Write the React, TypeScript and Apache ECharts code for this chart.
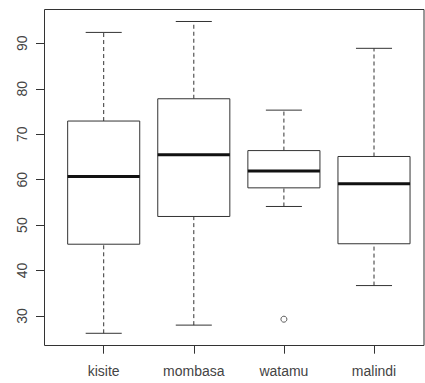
import React, { useEffect, useRef } from "react";
import * as echarts from "echarts";

const categories = ["kisite", "mombasa", "watamu", "malindi"];
const lowerWhisker = [26.2, 28.0, 54.1, 36.7];
const q1 = [45.8, 51.9, 58.2, 45.9];
const median = [60.7, 65.5, 61.9, 59.1];
const q3 = [72.9, 77.8, 66.4, 65.1];
const upperWhisker = [92.4, 94.8, 75.3, 88.9];
const outliers: [number, number][] = [[2, 29.3]];
const yTicks = [30, 40, 50, 60, 70, 80, 90];

const LINE = "#333";
const TEXT = "#444";
const FONT = "'Liberation Sans', Arial, sans-serif";

export default function App() {
  const ref = useRef<HTMLDivElement>(null);
  useEffect(() => {
    if (!ref.current) return;
    const chart = echarts.init(ref.current, undefined, { renderer: "svg" });
    const boxData = categories.map((_, i) => [
      i,
      lowerWhisker[i],
      q1[i],
      median[i],
      q3[i],
      upperWhisker[i],
    ]);
    const gridLeft = 58.65;
    const gridRight = 5.95;
    const gridTop = 9;
    const gridBottom = 37.3;
    chart.setOption({
      animation: false,
      backgroundColor: "#fff",
      grid: { left: gridLeft, right: gridRight, top: gridTop, bottom: gridBottom, containLabel: false },
      xAxis: {
        type: "category",
        data: categories,
        boundaryGap: true,
        axisLine: { show: false },
        axisTick: { show: true, alignWithLabel: true, length: 8, lineStyle: { color: LINE, width: 1 } },
        axisLabel: { margin: 18, fontSize: 14, color: TEXT, fontFamily: FONT },
        splitLine: { show: false },
      },
      yAxis: {
        type: "value",
        min: 23.47,
        max: 97.55,
        offset: gridLeft - 44,
        axisLine: { show: false },
        axisTick: { show: true, length: 8, customValues: yTicks, lineStyle: { color: LINE, width: 1 } },
        axisLabel: { customValues: yTicks, rotate: 90, margin: 15, fontSize: 14, color: TEXT, fontFamily: FONT },
        splitLine: { show: false },
      },
      graphic: [
        {
          type: "rect",
          shape: { x: 44.5, y: 9.5, width: 379.5, height: 336 },
          style: { fill: "none", stroke: LINE, lineWidth: 1 },
          silent: true,
          z: 10,
        },
      ],
      series: [
        {
          type: "custom",
          data: boxData,
          encode: { x: 0, y: [1, 2, 3, 4, 5] },
          renderItem: (params: any, api: any) => {
            const x = api.value(0);
            const band = api.size([1, 0])[0];
            const half = band * 0.4;
            const cap = band * 0.2;
            const pLo = api.coord([x, api.value(1)]);
            const pQ1 = api.coord([x, api.value(2)]);
            const pMed = api.coord([x, api.value(3)]);
            const pQ3 = api.coord([x, api.value(4)]);
            const pHi = api.coord([x, api.value(5)]);
            const cx = pMed[0];
            const solid = { stroke: LINE, lineWidth: 1, fill: "none" };
            const dashed = { stroke: LINE, lineWidth: 1, lineDash: [4, 3], fill: "none" };
            return {
              type: "group",
              children: [
                { type: "line", shape: { x1: cx, y1: pQ3[1], x2: cx, y2: pHi[1] }, style: dashed },
                { type: "line", shape: { x1: cx, y1: pLo[1], x2: cx, y2: pQ1[1] }, style: dashed },
                { type: "line", shape: { x1: cx - cap, y1: pHi[1], x2: cx + cap, y2: pHi[1] }, style: solid },
                { type: "line", shape: { x1: cx - cap, y1: pLo[1], x2: cx + cap, y2: pLo[1] }, style: solid },
                {
                  type: "rect",
                  shape: { x: cx - half, y: pQ3[1], width: half * 2, height: pQ1[1] - pQ3[1] },
                  style: { stroke: LINE, lineWidth: 1, fill: "#fff" },
                },
                {
                  type: "line",
                  shape: { x1: cx - half, y1: pMed[1], x2: cx + half, y2: pMed[1] },
                  style: { stroke: "#111", lineWidth: 3 },
                },
              ],
            };
          },
        },
        {
          type: "scatter",
          data: outliers,
          symbol: "circle",
          symbolSize: 6,
          itemStyle: { color: "#fff", borderColor: LINE, borderWidth: 1 },
        },
      ],
    });
    return () => chart.dispose();
  }, []);
  return (
    <div
      ref={ref}
      style={{ position: "fixed", left: 0, top: 0, width: 425, height: 383, background: "#fff" }}
    />
  );
}
